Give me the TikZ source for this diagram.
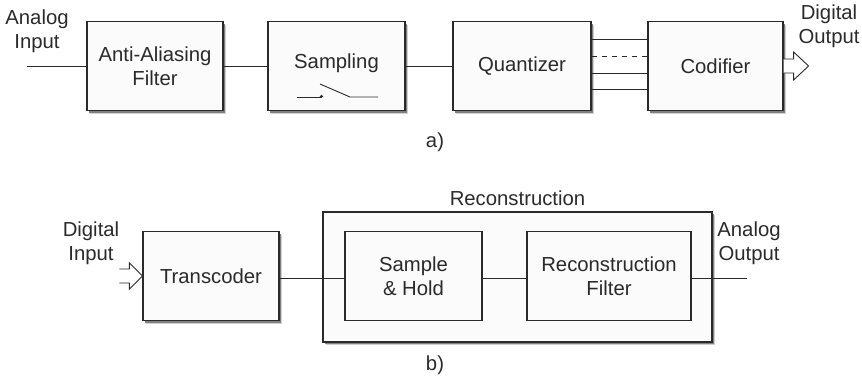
\documentclass[tikz,border=0pt]{standalone}
\usepackage{fontspec}
\setmainfont{Liberation Sans}
\usetikzlibrary{shadows,calc}
\definecolor{ink}{HTML}{2A2A2A}
\definecolor{boxfill}{HTML}{FBFBFB}
\begin{document}
\begin{tikzpicture}[x=1pt,y=-1pt,
  font=\fontsize{20.3}{24}\selectfont,
  every node/.style={text=ink},
  blk/.style={draw=ink, line width=1.2pt, fill=boxfill, minimum height=89pt, align=center, inner sep=0pt},
  shad/.style={drop shadow={shadow xshift=3.4pt, shadow yshift=-3.4pt, fill=black!18, opacity=1},
               drop shadow={shadow xshift=2pt, shadow yshift=-2pt, fill=black!50, opacity=1}},
  wire/.style={draw=ink, line width=1pt},
  lbl/.style={align=center, inner sep=0pt},
  hollow/.style={draw=ink, line width=0.9pt, fill=white, line join=miter}
]
\useasboundingbox (0,0) rectangle (862,376);

% ---------- a) ----------
\node[blk, shad, minimum width=136pt] (aaf) at (155,66) {Anti-Aliasing\\Filter};
\node[blk, shad, minimum width=137pt] (samp) at (336.5,66) {};
\node[lbl] (samptxt) at (336.5,63) {Sampling};
\node[blk, shad, minimum width=138pt] (quant) at (522,66) {Quantizer};
\node[blk, shad, minimum width=135pt] (cod) at (715.5,66) {Codifier};

\node[lbl] (ain) at (37,31) {Analog\\Input};
\node[lbl] (dout) at (829,26) {Digital\\Output};
\node[lbl] (la) at (435,142) {a)};

\coordinate (inL) at (27,66);
\draw[wire] (inL) -- (aaf.west);
\draw[wire] (aaf.east) -- (samp.west);
\draw[wire] (samp.east) -- (quant.west);

% quantizer -> codifier bus
\draw[wire] ($(quant.east)+(0,-27)$) -- ($(cod.west)+(0,-27)$);
\draw[wire, dash pattern=on 5pt off 5pt] ($(quant.east)+(0,-10)$) -- ($(cod.west)+(0,-10)$);
\draw[wire] ($(quant.east)+(0,7)$) -- ($(cod.west)+(0,7)$);
\draw[wire] ($(quant.east)+(0,23)$) -- ($(cod.west)+(0,23)$);

% switch symbol in sampling box
\draw[wire, line width=0.9pt] ($(samp.center)+(-39.5,31)$) -- ($(samp.center)+(-14.5,31)$);
\fill[ink] ($(samp.center)+(-17,31)$) -- ($(samp.center)+(-15,28.5)$) -- ($(samp.center)+(-13,31)$) -- cycle;
\draw[wire, line width=0.9pt] ($(samp.center)+(-16.5,18)$) -- ($(samp.center)+(13.5,31)$) -- ($(samp.center)+(41.5,31)$);

% digital output hollow arrow
\draw[hollow] (cod.east) ++(0,-7) -- ++(10,0) -- ++(0,-7) -- ++(15,14) -- ++(-15,14) -- ++(0,-7) -- ++(-10,0);

% ---------- b) ----------
\node[blk, shad, minimum width=389pt, minimum height=130pt] (rec) at (517.5,277) {};
\node[lbl] (rectxt) at (517.5,198) {Reconstruction};
\node[blk, shad, minimum width=136pt] (trans) at (211,276) {Transcoder};
\node[blk, minimum width=137pt] (sh) at (413.5,276) {Sample\\\& Hold};
\node[blk, minimum width=164pt] (rf) at (609,276) {Reconstruction\\Filter};

\node[lbl] (din) at (91,243) {Digital\\Input};
\node[lbl] (aout) at (749,243) {Analog\\Output};
\node[lbl] (lb) at (435,365) {b)};

\draw[wire] ($(trans.east)+(0,2)$) -- ($(sh.west)+(0,2)$);
\draw[wire] ($(sh.east)+(0,2)$) -- ($(rf.west)+(0,2)$);
\coordinate (outR) at (747,278);
\draw[wire] ($(rf.east)+(0,2)$) -- (outR);

% digital input hollow arrow
\draw[hollow] ($(trans.west)+(-23,-7)$) -- ++(10,0) -- ++(0,-6) -- ++(13,13) -- ++(-13,13) -- ++(0,-6) -- ++(-10,0);
\end{tikzpicture}
\end{document}
